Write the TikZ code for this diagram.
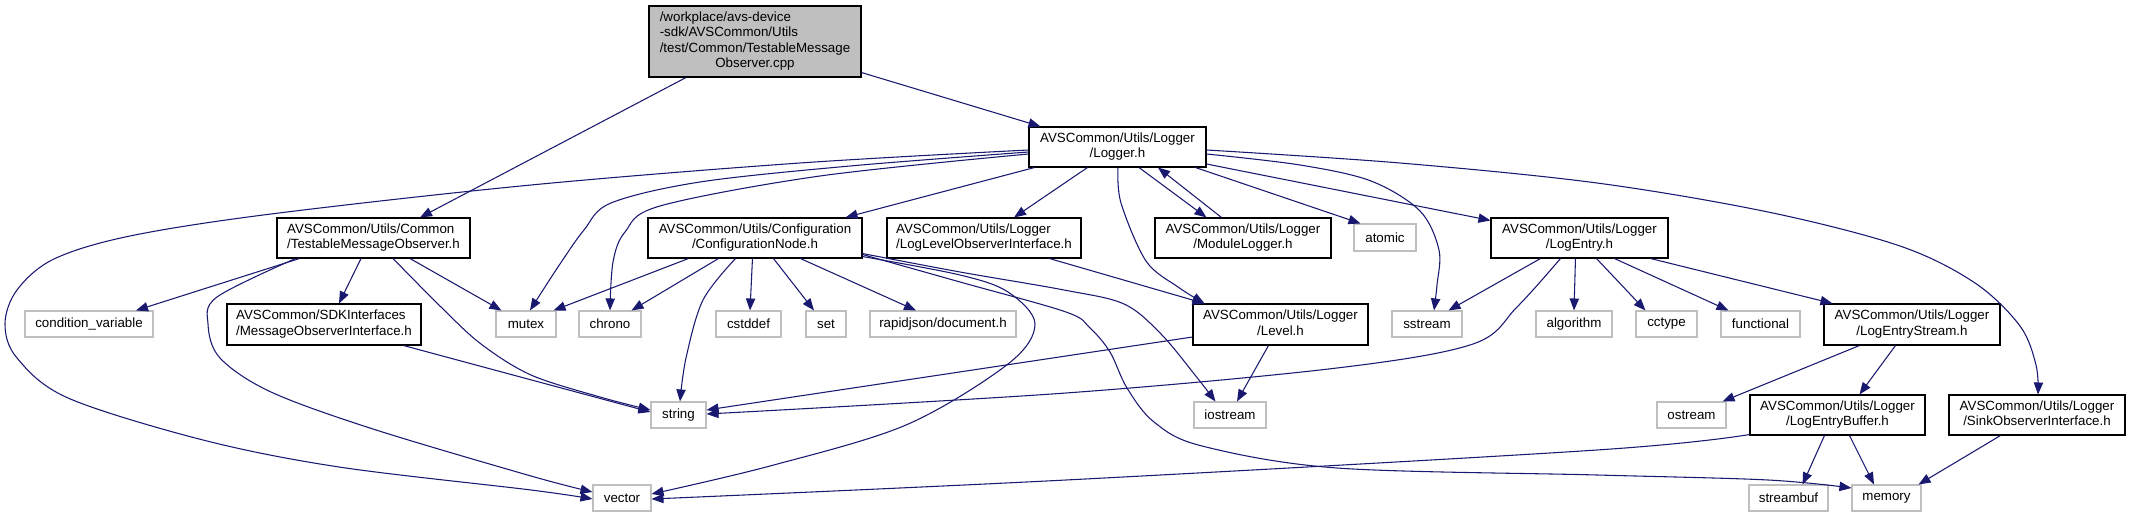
\documentclass[tikz,border=0pt]{standalone}
\usepackage{fontspec}
\setmainfont{Liberation Sans}
\usetikzlibrary{arrows.meta,calc}
\definecolor{edgeblue}{HTML}{191970}
\definecolor{sysgray}{HTML}{BFBFBF}
\newcommand{\tl}[2]{\begin{tabular}{@{}l@{}}#1\\\multicolumn{1}{@{}c@{}}{#2}\end{tabular}}
\newcommand{\fl}[4]{\begin{tabular}{@{}l@{}}#1\\#2\\#3\\\multicolumn{1}{@{}c@{}}{#4}\end{tabular}}
\begin{document}
\begin{tikzpicture}[x=0.75pt,y=-0.75pt,
  font=\fontsize{10}{11.5}\selectfont,
  hdr/.style 2 args={draw=black,line width=0.8pt,fill=white,inner sep=0pt,minimum width=#1*0.75pt,minimum height=#2*0.75pt},
  sys/.style 2 args={draw=sysgray,line width=0.8pt,fill=white,inner sep=0pt,minimum width=#1*0.75pt,minimum height=#2*0.75pt},
  e/.style={draw=edgeblue,line width=0.8pt,-{Triangle[length=9pt,width=7pt]}},
  sm/.style={smooth,tension=0.55}]
\useasboundingbox (0,0) rectangle (2132,513);
% row 1
\node[hdr={212}{71},fill=sysgray] (top) at (755,41.5) {\fl{/workplace/avs-device}{-sdk/AVSCommon/Utils}{/test/Common/TestableMessage}{Observer.cpp}};
% row 2
\node[hdr={177}{40}] (logger) at (1117.5,147) {\tl{AVSCommon/Utils/Logger}{/Logger.h}};
% row 3
\node[hdr={193}{40}] (tmo) at (373.5,238) {\tl{AVSCommon/Utils/Common}{/TestableMessageObserver.h}};
\node[hdr={214}{40}] (cn) at (755,238) {\tl{AVSCommon/Utils/Configuration}{/ConfigurationNode.h}};
\node[hdr={194}{40}] (lloi) at (984,238) {\tl{AVSCommon/Utils/Logger}{/LogLevelObserverInterface.h}};
\node[hdr={176}{40}] (ml) at (1243,238) {\tl{AVSCommon/Utils/Logger}{/ModuleLogger.h}};
\node[sys={62}{27}] (atomic) at (1385,237.5) {atomic};
\node[hdr={177}{40}] (le) at (1579.5,238) {\tl{AVSCommon/Utils/Logger}{/LogEntry.h}};
% row 4
\node[sys={128}{26}] (cv) at (89,324) {condition\_variable};
\node[hdr={194}{41}] (moi) at (324,324.5) {\tl{AVSCommon/SDKInterfaces}{/MessageObserverInterface.h}};
\node[sys={60}{26}] (mutex) at (526,324) {mutex};
\node[sys={62}{26}] (chrono) at (610,324) {chrono};
\node[sys={65}{26}] (cstddef) at (748.5,324) {cstddef};
\node[sys={40}{26}] (set) at (826,324) {set};
\node[sys={146}{26}] (rapid) at (943,324) {rapidjson/document.h};
\node[hdr={175}{41}] (level) at (1280.5,324.5) {\tl{AVSCommon/Utils/Logger}{/Level.h}};
\node[sys={70}{26}] (sstream) at (1427,324) {sstream};
\node[sys={76}{26}] (algorithm) at (1574,324) {algorithm};
\node[sys={61}{26}] (cctype) at (1666.5,324) {cctype};
\node[sys={79}{26}] (functional) at (1760.5,324) {functional};
\node[hdr={176}{41}] (les) at (1912,324.5) {\tl{AVSCommon/Utils/Logger}{/LogEntryStream.h}};
% row 5
\node[sys={55}{26}] (string) at (678.5,415) {string};
\node[sys={72}{26}] (iostream) at (1230,415) {iostream};
\node[sys={69}{26}] (ostream) at (1691.5,415) {ostream};
\node[hdr={175}{40}] (leb) at (1837.5,415) {\tl{AVSCommon/Utils/Logger}{/LogEntryBuffer.h}};
\node[hdr={176}{40}] (sink) at (2037,415) {\tl{AVSCommon/Utils/Logger}{/SinkObserverInterface.h}};
% row 6
\node[sys={58}{26}] (vector) at (622,498) {vector};
\node[sys={79}{26}] (streambuf) at (1788.5,498) {streambuf};
\node[sys={69}{26}] (memory) at (1886.5,498) {memory};

% edges from top
\draw[e] ($(top.south)+(-69,0)$) -- ($(tmo.north)+(46.5,0)$);
\draw[e] ($(top.south east)+(0,-5)$) -- ($(logger.north west)+(12,0)$);
% edges from Logger.h
\draw[e] plot[sm] coordinates {($(logger.west)+(0,3)$) (800,163) (531,185) (271,214) (130,236) (54,259) (17,290) (5,324) (17,358) (68,398) (203,440) (339,467) (531,490) ($(vector.west)+(0,1)$)};
\draw[e] plot[sm] coordinates {($(logger.west)+(0,5)$) (850,166) (700,182) (611,203) (584,230) (562,261) (543,290) ($(mutex.north)+(4,0)$)};
\draw[e] plot[sm] coordinates {($(logger.west)+(0,7)$) (820,176) (660,206) (625,232) (613,262) (chrono.north)};
\draw[e] ($(logger.south west)+(6,0)$) -- ($(cn.north east)+(-17,0)$);
\draw[e] ($(logger.south west)+(59,0)$) -- ($(lloi.north)+(30,0)$);
\draw[e] plot[sm] coordinates {($(logger.south)+(0.5,0)$) (1121,203) (1146,261) (1178,287) ($(level.north west)+(12,0)$)};
\draw[e] ($(logger.south)+(21.5,0)$) -- ($(ml.north west)+(52,0)$);
\draw[e] ($(ml.north west)+(67,0)$) -- ($(logger.south)+(40.5,0)$);
\draw[e] ($(logger.south east)+(-11,0)$) -- ($(atomic.north west)+(7,0)$);
\draw[e] plot[sm] coordinates {($(logger.east)+(0,7)$) (1300,165) (1371,181) (1420,211) (1439,250) (1437,285) ($(sstream.north)+(7,0)$)};
\draw[e] ($(logger.east)+(0,17)$) -- ($(le.north west)+(0,3)$);
\draw[e] plot[sm] coordinates {($(logger.east)+(0,3)$) (1400,163) (1597,183) (1768,212) (1900,246) (1975,283) (2020,326) (2036,365) ($(sink.north)+(1,0)$)};
% edges from TestableMessageObserver.h
\draw[e] ($(tmo.south west)+(23,0)$) -- ($(cv.north)+(47,0)$);
\draw[e] plot[sm] coordinates {($(tmo.south west)+(19,0)$) (217,297) (208,324) (220,358) (271,392) (373,429) (531,476) ($(vector.west)+(0,-6)$)};
\draw[e] ($(tmo.south)+(-12.5,0)$) -- ($(moi.north)+(15,0)$);
\draw[e] plot[sm] coordinates {($(tmo.south)+(19.5,0)$) (441,307) (481,344) (531,375) (600,397) ($(string.west)+(0,-5)$)};
\draw[e] ($(tmo.south)+(36.5,0)$) -- ($(mutex.north west)+(6,0)$);
% MessageObserverInterface
\draw[e] ($(moi.south east)+(-18,0)$) -- ($(string.west)+(0,-3)$);
% ConfigurationNode.h
\draw[e] ($(cn.south west)+(41,0)$) -- ($(mutex.north east)+(-3,0)$);
\draw[e] ($(cn.south west)+(71,0)$) -- ($(chrono.north east)+(-10,0)$);
\draw[e] plot[sm] coordinates {($(cn.south west)+(88,0)$) (703,300) (686,358) ($(string.north)+(1.5,0)$)};
\draw[e] ($(cn.south west)+(105,0)$) -- ($(cstddef.north)+(1.5,0)$);
\draw[e] ($(cn.south west)+(126,0)$) -- ($(set.north)+(-12,0)$);
\draw[e] ($(cn.south west)+(153,0)$) -- ($(rapid.north)+(-27,0)$);
\draw[e] plot[sm] coordinates {($(cn.south east)+(0,-2)$) (960,275) (1008,292) (1035,324) (1008,364) (906,425) (770,466) ($(vector.east)+(0,-4)$)};
\draw[e] plot[sm] coordinates {($(cn.south east)+(0,-5)$) (960,272) (1064,290) (1124,304) (1161,334) (1195,375) ($(iostream.north west)+(22,0)$)};
\draw[e] plot[sm] coordinates {($(cn.south east)+(0,-4)$) (960,282) (1066,312) (1090,328) (1110,352) (1127,388) (1154,422) (1202,446) (1337,468) (1597,475) (1768,480) ($(memory.west)+(0,-10)$)};
% LogLevelObserverInterface.h
\draw[e] ($(lloi.south west)+(163,0)$) -- ($(level.north west)+(12,0)$);
% Level.h
\draw[e] ($(level.west)+(0,12.5)$) -- ($(string.east)+(0,-5)$);
\draw[e] ($(level.south west)+(76,0)$) -- ($(iostream.north)+(7,0)$);
% LogEntry.h
\draw[e] ($(le.south west)+(50,0)$) -- ($(sstream.north east)+(-14,0)$);
\draw[e] plot[sm] coordinates {($(le.south west)+(70,0)$) (1517,307) (1473,344) (1337,368) (1066,393) ($(string.east)+(0,-1)$)};
\draw[e] ($(le.south west)+(85,0)$) -- (algorithm.north);
\draw[e] ($(le.south west)+(106,0)$) -- ($(cctype.north)+(-21,0)$);
\draw[e] ($(le.south west)+(124,0)$) -- ($(functional.north)+(-32,0)$);
\draw[e] ($(le.south east)+(-18,0)$) -- ($(les.north west)+(9,0)$);
% LogEntryStream.h
\draw[e] ($(les.south west)+(36,0)$) -- ($(ostream.north east)+(-4,0)$);
\draw[e] ($(les.south west)+(72,0)$) -- ($(leb.north west)+(110,0)$);
% LogEntryBuffer.h
\draw[e] plot[sm] coordinates {($(leb.south west)+(0,-1)$) (1597,450) (1066,480) ($(vector.east)+(0,1)$)};
\draw[e] ($(leb.south west)+(75,0)$) -- ($(streambuf.north east)+(-26,0)$);
\draw[e] ($(leb.south west)+(100,0)$) -- ($(memory.north)+(-12.5,0)$);
% SinkObserverInterface.h
\draw[e] ($(sink.south west)+(52,0)$) -- ($(memory.north east)+(-3,0)$);
\end{tikzpicture}
\end{document}
